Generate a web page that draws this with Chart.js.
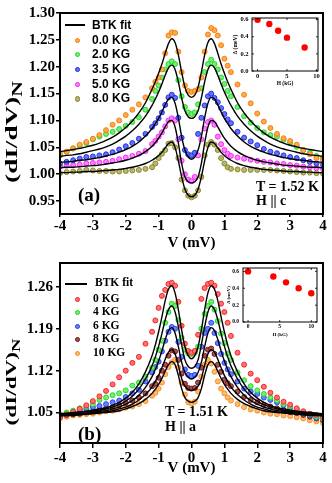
<!DOCTYPE html>
<html lang="en">
<head>
<meta charset="UTF-8" />
<title>BTK fits</title>
<script src="https://cdn.jsdelivr.net/npm/chart.js@4.4.1/dist/chart.umd.min.js"></script>
<style>
    * { margin: 0; padding: 0; }
    body { width: 332px; height: 483px; background: #fff; position: relative; overflow: hidden; }
    canvas { position: absolute; }
    #chartA { left: 0; top: 0; }
    #chartB { left: 0; top: 252px; }
    #insetA { left: 224px; top: 14px; }
    #insetB { left: 222px; top: 263px; }
    .txt { position: absolute; white-space: nowrap; font-weight: bold; line-height: 1; color: #000; }
    .serif { font-family: "Liberation Serif", "Times New Roman", serif; }
    .sans { font-family: "Liberation Sans", Arial, sans-serif; }
    .dot { position: absolute; border-radius: 50%; }
    .bar { position: absolute; background: #000; }
</style>
</head>
<body>
<canvas id="chartA" width="332" height="252"></canvas>
<canvas id="chartB" width="332" height="231"></canvas>
<canvas id="insetA" width="98" height="76"></canvas>
<canvas id="insetB" width="100" height="77"></canvas>
<div id="overlay"></div>
<script>
    // bias voltage (mV)
    const V = [-4, -3.8, -3.6, -3.4, -3.2, -3, -2.8, -2.6, -2.4, -2.2, -2, -1.8, -1.6, -1.4,
        -1.2, -1.1, -1, -0.9, -0.8, -0.7, -0.6, -0.5, -0.4, -0.3, -0.2, -0.1, 0, 0.1, 0.2, 0.3, 0.4, 0.5, 0.6, 0.7, 0.8, 0.9, 1, 1.1, 1.2,
        1.4, 1.6, 1.8, 2, 2.2, 2.4, 2.6, 2.8, 3, 3.2, 3.4, 3.6, 3.8, 4];

    // panel (a): H || c
    const labelsA = ["0.0 KG", "2.0 KG", "3.5 KG", "5.0 KG", "8.0 KG"];
    const a0 = [1.038, 1.042, 1.048, 1.055, 1.060, 1.066, 1.073, 1.082, 1.092, 1.100, 1.110, 1.120, 1.130, 1.143,
        1.160, 1.172, 1.180, 1.195, 1.225, 1.258, 1.264, 1.263, 1.228, 1.190, 1.165, 1.155, 1.153, 1.155, 1.158, 1.180, 1.228, 1.260, 1.272, 1.268, 1.258, 1.240, 1.215, 1.202, 1.190,
        1.167, 1.148, 1.132, 1.113, 1.098, 1.086, 1.075, 1.067, 1.062, 1.055, 1.045, 1.037, 1.030, 1.027];
    const a1 = [1.035, 1.042, 1.048, 1.053, 1.058, 1.065, 1.070, 1.075, 1.079, 1.084, 1.090, 1.097, 1.106, 1.120,
        1.140, 1.155, 1.165, 1.180, 1.195, 1.205, 1.210, 1.205, 1.175, 1.145, 1.125, 1.115, 1.112, 1.115, 1.130, 1.160, 1.190, 1.205, 1.213, 1.205, 1.195, 1.180, 1.168, 1.155, 1.145,
        1.125, 1.108, 1.096, 1.086, 1.078, 1.073, 1.070, 1.064, 1.058, 1.051, 1.045, 1.040, 1.034, 1.030];
    const a2 = [1.020, 1.023, 1.026, 1.029, 1.032, 1.033, 1.035, 1.037, 1.041, 1.046, 1.052, 1.058, 1.066, 1.075,
        1.088, 1.095, 1.104, 1.115, 1.129, 1.143, 1.148, 1.142, 1.105, 1.068, 1.045, 1.037, 1.035, 1.040, 1.075, 1.105, 1.128, 1.145, 1.150, 1.142, 1.134, 1.123, 1.112, 1.102, 1.095,
        1.079, 1.068, 1.061, 1.054, 1.047, 1.042, 1.039, 1.035, 1.032, 1.030, 1.026, 1.023, 1.020, 1.018];
    const a3 = [1.014, 1.016, 1.017, 1.018, 1.020, 1.021, 1.022, 1.023, 1.025, 1.028, 1.031, 1.034, 1.038, 1.043,
        1.056, 1.062, 1.070, 1.078, 1.089, 1.100, 1.104, 1.100, 1.065, 1.025, 1.000, 0.990, 0.987, 0.995, 1.035, 1.065, 1.085, 1.097, 1.100, 1.092, 1.070, 1.056, 1.045, 1.038, 1.034,
        1.031, 1.029, 1.027, 1.025, 1.023, 1.022, 1.020, 1.019, 1.017, 1.016, 1.014, 1.013, 1.011, 1.010];
    const a4 = [1.002, 1.004, 1.005, 1.006, 1.008, 1.007, 1.006, 1.006, 1.005, 1.005, 1.006, 1.007, 1.008, 1.010,
        1.013, 1.020, 1.030, 1.038, 1.045, 1.057, 1.058, 1.050, 1.030, 0.990, 0.970, 0.960, 0.957, 0.960, 0.970, 0.995, 1.035, 1.055, 1.060, 1.055, 1.045, 1.030, 1.020, 1.013, 1.010,
        1.009, 1.008, 1.008, 1.008, 1.008, 1.008, 1.007, 1.006, 1.005, 1.004, 1.003, 1.003, 1.002, 1.001];
    const fitA0 = [1.042, 1.044, 1.046, 1.048, 1.051, 1.054, 1.058, 1.063, 1.069, 1.077, 1.087, 1.099, 1.114, 1.133,
        1.158, 1.172, 1.188, 1.205, 1.225, 1.243, 1.252, 1.245, 1.222, 1.190, 1.162, 1.147, 1.143, 1.147, 1.162, 1.190, 1.222, 1.245, 1.252, 1.243, 1.225, 1.205, 1.188, 1.172, 1.158,
        1.133, 1.114, 1.099, 1.087, 1.077, 1.069, 1.063, 1.058, 1.054, 1.051, 1.048, 1.046, 1.044, 1.042];
    const fitA1 = [1.033, 1.035, 1.036, 1.038, 1.041, 1.044, 1.047, 1.051, 1.056, 1.063, 1.071, 1.081, 1.093, 1.108,
        1.128, 1.140, 1.153, 1.168, 1.184, 1.198, 1.203, 1.195, 1.172, 1.142, 1.118, 1.107, 1.104, 1.107, 1.118, 1.142, 1.172, 1.195, 1.203, 1.198, 1.184, 1.168, 1.153, 1.140, 1.128,
        1.108, 1.093, 1.081, 1.071, 1.063, 1.056, 1.051, 1.047, 1.044, 1.041, 1.038, 1.036, 1.035, 1.033];
    const fitA2 = [1.022, 1.023, 1.024, 1.026, 1.027, 1.029, 1.031, 1.034, 1.037, 1.041, 1.046, 1.052, 1.060, 1.071,
        1.085, 1.094, 1.104, 1.116, 1.129, 1.140, 1.143, 1.132, 1.105, 1.070, 1.045, 1.032, 1.028, 1.032, 1.045, 1.070, 1.105, 1.132, 1.143, 1.140, 1.129, 1.116, 1.104, 1.094, 1.085,
        1.071, 1.060, 1.052, 1.046, 1.041, 1.037, 1.034, 1.031, 1.029, 1.027, 1.026, 1.024, 1.023, 1.022];
    const fitA3 = [1.012, 1.013, 1.013, 1.014, 1.015, 1.016, 1.017, 1.019, 1.021, 1.023, 1.026, 1.030, 1.035, 1.042,
        1.052, 1.059, 1.067, 1.077, 1.088, 1.098, 1.100, 1.088, 1.058, 1.020, 0.995, 0.986, 0.984, 0.986, 0.995, 1.020, 1.058, 1.088, 1.100, 1.098, 1.088, 1.077, 1.067, 1.059, 1.052,
        1.042, 1.035, 1.030, 1.026, 1.023, 1.021, 1.019, 1.017, 1.016, 1.015, 1.014, 1.013, 1.013, 1.012];
    const fitA4 = [1.003, 1.003, 1.004, 1.004, 1.005, 1.005, 1.006, 1.007, 1.008, 1.009, 1.011, 1.013, 1.016, 1.020,
        1.026, 1.030, 1.035, 1.041, 1.049, 1.057, 1.060, 1.050, 1.025, 0.995, 0.972, 0.961, 0.958, 0.961, 0.972, 0.995, 1.025, 1.050, 1.060, 1.057, 1.049, 1.041, 1.035, 1.030, 1.026,
        1.020, 1.016, 1.013, 1.011, 1.009, 1.008, 1.007, 1.006, 1.005, 1.005, 1.004, 1.004, 1.003, 1.003];
    const yTicksA = [0.95, 1.00, 1.05, 1.10, 1.15, 1.20, 1.25, 1.30];

    // panel (b): H || a
    const labelsB = ["0 KG", "4 KG", "6 KG", "8 KG", "10 KG"];
    const b0 = [1.043, 1.047, 1.051, 1.056, 1.062, 1.069, 1.077, 1.086, 1.097, 1.109, 1.120, 1.133, 1.143, 1.165,
        1.185, 1.204, 1.225, 1.245, 1.255, 1.265, 1.267, 1.262, 1.235, 1.195, 1.165, 1.153, 1.150, 1.153, 1.180, 1.240, 1.258, 1.265, 1.267, 1.262, 1.248, 1.232, 1.218, 1.200, 1.178,
        1.150, 1.130, 1.115, 1.104, 1.093, 1.083, 1.075, 1.068, 1.063, 1.057, 1.052, 1.048, 1.046, 1.043];
    const b1 = [1.047, 1.050, 1.053, 1.057, 1.060, 1.064, 1.071, 1.075, 1.079, 1.082, 1.087, 1.095, 1.100, 1.110,
        1.125, 1.138, 1.155, 1.170, 1.200, 1.218, 1.232, 1.228, 1.205, 1.175, 1.155, 1.149, 1.148, 1.150, 1.160, 1.190, 1.215, 1.228, 1.235, 1.222, 1.203, 1.182, 1.166, 1.148, 1.138,
        1.117, 1.104, 1.094, 1.087, 1.081, 1.075, 1.070, 1.064, 1.060, 1.055, 1.051, 1.047, 1.043, 1.040];
    const b2 = [1.043, 1.047, 1.050, 1.053, 1.056, 1.059, 1.061, 1.064, 1.067, 1.070, 1.076, 1.082, 1.088, 1.102,
        1.117, 1.126, 1.135, 1.152, 1.170, 1.185, 1.193, 1.190, 1.168, 1.143, 1.122, 1.113, 1.111, 1.113, 1.128, 1.160, 1.183, 1.190, 1.200, 1.183, 1.166, 1.148, 1.133, 1.122, 1.114,
        1.102, 1.090, 1.085, 1.081, 1.075, 1.071, 1.067, 1.062, 1.058, 1.053, 1.049, 1.045, 1.041, 1.038];
    const b3 = [1.043, 1.046, 1.047, 1.048, 1.050, 1.052, 1.054, 1.057, 1.059, 1.062, 1.066, 1.070, 1.075, 1.082,
        1.094, 1.098, 1.108, 1.120, 1.130, 1.145, 1.154, 1.152, 1.138, 1.115, 1.098, 1.091, 1.090, 1.091, 1.100, 1.125, 1.145, 1.155, 1.157, 1.148, 1.130, 1.118, 1.105, 1.099, 1.094,
        1.085, 1.076, 1.071, 1.067, 1.063, 1.060, 1.057, 1.054, 1.051, 1.049, 1.046, 1.043, 1.040, 1.037];
    const b4 = [1.040, 1.043, 1.045, 1.046, 1.047, 1.048, 1.050, 1.052, 1.053, 1.055, 1.058, 1.060, 1.064, 1.069,
        1.078, 1.083, 1.090, 1.100, 1.114, 1.126, 1.134, 1.138, 1.125, 1.100, 1.080, 1.067, 1.065, 1.068, 1.085, 1.110, 1.130, 1.138, 1.132, 1.118, 1.102, 1.090, 1.082, 1.075, 1.070,
        1.064, 1.059, 1.055, 1.053, 1.050, 1.048, 1.047, 1.045, 1.044, 1.042, 1.040, 1.037, 1.035, 1.032];
    const fitB0 = [1.048, 1.049, 1.050, 1.051, 1.052, 1.054, 1.056, 1.058, 1.062, 1.067, 1.074, 1.084, 1.098, 1.118,
        1.145, 1.163, 1.185, 1.210, 1.237, 1.256, 1.262, 1.250, 1.222, 1.188, 1.160, 1.145, 1.140, 1.145, 1.160, 1.188, 1.222, 1.250, 1.262, 1.256, 1.237, 1.210, 1.185, 1.163, 1.145,
        1.118, 1.098, 1.084, 1.074, 1.067, 1.062, 1.058, 1.056, 1.054, 1.052, 1.051, 1.050, 1.049, 1.048];
    const fitB1 = [1.047, 1.048, 1.049, 1.050, 1.051, 1.052, 1.054, 1.056, 1.059, 1.063, 1.069, 1.077, 1.089, 1.106,
        1.128, 1.143, 1.161, 1.182, 1.205, 1.222, 1.228, 1.218, 1.193, 1.163, 1.138, 1.127, 1.124, 1.127, 1.138, 1.163, 1.193, 1.218, 1.228, 1.222, 1.205, 1.182, 1.161, 1.143, 1.128,
        1.106, 1.089, 1.077, 1.069, 1.063, 1.059, 1.056, 1.054, 1.052, 1.051, 1.050, 1.049, 1.048, 1.047];
    const fitB2 = [1.046, 1.047, 1.048, 1.048, 1.049, 1.050, 1.052, 1.053, 1.056, 1.059, 1.064, 1.070, 1.079, 1.092,
        1.110, 1.122, 1.136, 1.153, 1.172, 1.187, 1.192, 1.183, 1.160, 1.134, 1.117, 1.109, 1.106, 1.109, 1.117, 1.134, 1.160, 1.183, 1.192, 1.187, 1.172, 1.153, 1.136, 1.122, 1.110,
        1.092, 1.079, 1.070, 1.064, 1.059, 1.056, 1.053, 1.052, 1.050, 1.049, 1.048, 1.048, 1.047, 1.046];
    const fitB3 = [1.045, 1.046, 1.046, 1.047, 1.048, 1.049, 1.050, 1.051, 1.053, 1.056, 1.059, 1.064, 1.071, 1.080,
        1.093, 1.102, 1.112, 1.125, 1.139, 1.151, 1.155, 1.148, 1.129, 1.107, 1.094, 1.089, 1.087, 1.089, 1.094, 1.107, 1.129, 1.148, 1.155, 1.151, 1.139, 1.125, 1.112, 1.102, 1.093,
        1.080, 1.071, 1.064, 1.059, 1.056, 1.053, 1.051, 1.050, 1.049, 1.048, 1.047, 1.046, 1.046, 1.045];
    const fitB4 = [1.044, 1.045, 1.045, 1.046, 1.047, 1.048, 1.049, 1.050, 1.051, 1.053, 1.056, 1.060, 1.065, 1.072,
        1.082, 1.089, 1.097, 1.107, 1.119, 1.130, 1.135, 1.130, 1.112, 1.090, 1.075, 1.069, 1.067, 1.069, 1.075, 1.090, 1.112, 1.130, 1.135, 1.130, 1.119, 1.107, 1.097, 1.089, 1.082,
        1.072, 1.065, 1.060, 1.056, 1.053, 1.051, 1.050, 1.049, 1.048, 1.047, 1.046, 1.045, 1.045, 1.044];
    const yTicksB = [1.05, 1.12, 1.19, 1.26];

    const xTicks = [-4, -3, -2, -1, 0, 1, 2, 3, 4];

    // insets: gap vs field
    const fieldA = [0, 2, 3.5, 5, 8];
    const gapA = [0.60, 0.55, 0.47, 0.39, 0.275];
    const fieldB = [0, 4, 6, 8, 10];
    const gapB = [0.60, 0.54, 0.47, 0.40, 0.34];
    const insetYTicks = [0, 0.2, 0.4, 0.6];
    const insetXTicks = [0, 5, 10];

    // colours (fill, rim)
    const fillA = ["#ffa850", "#70f070", "#6470ff", "#ff80ff", "#b8b868"];
    const edgeA = ["#f57a00", "#1fd31f", "#1c26d8", "#f020f0", "#80802a"];
    const fillB = ["#ff7070", "#70f070", "#6a80ff", "#a85050", "#ffb870"];
    const edgeB = ["#f01c1c", "#1fd31f", "#1f3cf0", "#6e0f0f", "#f58a1a"];

    const SERIF = '"Liberation Serif", "Times New Roman", serif';
    const pts = (xs, ys) => xs.map((x, i) => ({ x: x, y: ys[i] }));

    const framePlugin = {
        id: "frame",
        afterDatasetsDraw(chart, args, opts) {
            const { ctx, chartArea: a } = chart;
            ctx.save();
            ctx.strokeStyle = "#000";
            ctx.lineWidth = opts.width || 2;
            ctx.strokeRect(a.left, a.top, a.right - a.left, a.bottom - a.top);
            if (opts.inner) {
                ctx.lineWidth = 0.8;
                const t = opts.inner;
                chart.scales.x.ticks.forEach(tk => {
                    const px = chart.scales.x.getPixelForValue(tk.value);
                    ctx.beginPath();
                    ctx.moveTo(px, a.bottom); ctx.lineTo(px, a.bottom - t);
                    ctx.moveTo(px, a.top); ctx.lineTo(px, a.top + t);
                    ctx.stroke();
                });
                chart.scales.y.ticks.forEach(tk => {
                    const py = chart.scales.y.getPixelForValue(tk.value);
                    ctx.beginPath();
                    ctx.moveTo(a.left, py); ctx.lineTo(a.left + t, py);
                    ctx.moveTo(a.right, py); ctx.lineTo(a.right - t, py);
                    ctx.stroke();
                });
            }
            ctx.restore();
        }
    };

    // rotated y title with subscript N
    const yTitlePlugin = {
        id: "ytitle",
        afterDraw(chart, args, o) {
            const ctx = chart.ctx;
            ctx.save();
            ctx.translate(o.x, o.y);
            ctx.rotate(-Math.PI / 2);
            ctx.scale(o.sx, 1);
            ctx.fillStyle = "#000";
            ctx.textBaseline = "middle";
            ctx.font = "bold " + o.size + "px " + SERIF;
            const main = "(dI/dV)";
            const w1 = ctx.measureText(main).width;
            ctx.font = "bold " + (o.size * 0.8) + "px " + SERIF;
            const w2 = ctx.measureText("N").width;
            const start = -(w1 + w2) / 2;
            ctx.font = "bold " + o.size + "px " + SERIF;
            ctx.fillText(main, start, 0);
            ctx.font = "bold " + (o.size * 0.8) + "px " + SERIF;
            ctx.fillText("N", start + w1, o.size * 0.35);
            ctx.restore();
        }
    };

    function mainChart(id, series, fits, fills, edges, yMin, yMax, yTicks, g) {
        const datasets = [];
        fits.forEach(f => datasets.push({
            data: pts(V, f), showLine: true, borderColor: "#000", borderWidth: 1.4,
            pointRadius: 0, cubicInterpolationMode: "monotone", order: 1
        }));
        series.forEach((s, i) => datasets.push({
            data: pts(V, s), showLine: false, pointRadius: 2.5, pointBorderWidth: 0.9,
            pointBackgroundColor: fills[i], pointBorderColor: edges[i], order: 2
        }));
        return new Chart(document.getElementById(id), {
            type: "scatter",
            data: { datasets: datasets },
            plugins: [framePlugin, yTitlePlugin],
            options: {
                responsive: false,
                animation: false,
                events: [],
                layout: { padding: { top: g.padTop, right: 9, left: 0, bottom: 0 } },
                scales: {
                    x: {
                        type: "linear", min: -4, max: 4,
                        afterBuildTicks: s => { s.ticks = xTicks.map(v => ({ value: v })); },
                        afterFit: s => { s.height = g.xH; s.paddingLeft = 0; s.paddingRight = 0; },
                        grid: { display: true, drawOnChartArea: false, drawTicks: true, tickLength: g.xTickLen, color: "#000", lineWidth: 1.5 },
                        border: { display: false },
                        ticks: {
                            color: "#000", padding: g.xTickPad, maxRotation: 0, autoSkip: false,
                            font: { family: SERIF, size: 15, weight: "bold" },
                            callback: v => String(v)
                        },
                        title: {
                            display: true, text: "V (mV)", color: "#000",
                            font: { family: SERIF, size: 15, weight: "bold" },
                            padding: { top: 0, bottom: g.titlePB }
                        }
                    },
                    y: {
                        type: "linear", min: yMin, max: yMax,
                        afterBuildTicks: s => { s.ticks = yTicks.map(v => ({ value: v })); },
                        afterFit: s => { s.width = 60; s.paddingTop = 0; s.paddingBottom = 0; },
                        grid: { display: true, drawOnChartArea: false, drawTicks: true, tickLength: 4, color: "#000", lineWidth: 1.5 },
                        border: { display: false },
                        ticks: {
                            color: "#000", padding: g.yTickPad, autoSkip: false,
                            font: { family: SERIF, size: 15, weight: "bold" },
                            callback: v => v.toFixed(2)
                        }
                    }
                },
                plugins: {
                    legend: { display: false },
                    tooltip: { enabled: false },
                    frame: { width: 2 },
                    ytitle: g.yTitle
                }
            }
        });
    }

    function insetChart(id, hs, gaps, g) {
        return new Chart(document.getElementById(id), {
            type: "scatter",
            data: { datasets: [{ data: pts(hs, gaps), pointRadius: g.r, pointBackgroundColor: "#ff0000", pointBorderColor: "#ff0000", pointBorderWidth: 0 }] },
            plugins: [framePlugin],
            options: {
                responsive: false,
                animation: false,
                events: [],
                layout: { padding: { top: g.padTop, right: g.padRight, left: 0, bottom: 0 } },
                scales: {
                    x: {
                        type: "linear", min: g.xMin, max: g.xMax,
                        afterBuildTicks: s => { s.ticks = insetXTicks.map(v => ({ value: v })); },
                        afterFit: s => { s.height = g.xH; s.paddingLeft = 0; s.paddingRight = 0; },
                        grid: { display: false, drawTicks: false },
                        border: { display: false },
                        ticks: { color: "#000", padding: 1, maxRotation: 0, autoSkip: false, font: { family: SERIF, size: g.tick, weight: "bold" } },
                        title: { display: true, text: "H (kG)", color: "#000", font: { family: SERIF, size: g.title, weight: "bold" }, padding: { top: 0, bottom: g.titlePB } }
                    },
                    y: {
                        type: "linear", min: 0, max: g.yMax,
                        afterBuildTicks: s => { s.ticks = insetYTicks.map(v => ({ value: v })); },
                        afterFit: s => { s.width = g.yW; s.paddingTop = 0; s.paddingBottom = 0; },
                        grid: { display: false, drawTicks: false },
                        border: { display: false },
                        ticks: { color: "#000", padding: g.yTickPad, autoSkip: false, font: { family: SERIF, size: g.tick, weight: "bold" }, callback: v => v.toFixed(1) },
                        title: { display: true, text: "Δ (meV)", color: "#000", font: { family: SERIF, size: g.title, weight: "bold" }, padding: { top: g.yTitlePad, bottom: 0 } }
                    }
                },
                plugins: {
                    legend: { display: false },
                    tooltip: { enabled: false },
                    frame: { width: 1, inner: 2 }
                }
            }
        });
    }

    mainChart("chartA", [a0, a1, a2, a3, a4], [fitA0, fitA1, fitA2, fitA3, fitA4], fillA, edgeA,
        0.926, 1.30, yTicksA,
        { padTop: 13, xH: 38, xTickLen: 3, xTickPad: 0, titlePB: 0, yTickPad: 1, yTitle: { x: 13, y: 132, size: 17, sx: 1.6 } });
    mainChart("chartB", [b0, b1, b2, b3, b4], [fitB0, fitB1, fitB2, fitB3, fitB4], fillB, edgeB,
        0.999, 1.30, yTicksB,
        { padTop: 11, xH: 40, xTickLen: 5, xTickPad: 1, titlePB: 6, yTickPad: 3, yTitle: { x: 12, y: 130, size: 15, sx: 1.55 } });

    insetChart("insetA", fieldA, gapA,
        { r: 3.2, padTop: 4, padRight: 4, xH: 19, yW: 28, xMin: -0.94, xMax: 10.27, yMax: 0.62, tick: 6.5, title: 5.5, titlePB: 3, yTickPad: 3.5, yTitlePad: 8 });
    insetChart("insetB", fieldB, gapB,
        { r: 3.2, padTop: 5, padRight: 5, xH: 18, yW: 21, xMin: -0.8, xMax: 10.9, yMax: 0.64, tick: 5.5, title: 5, titlePB: 2.5, yTickPad: 4, yTitlePad: 3.5 });

    // legends and notes as page text
    const overlay = document.getElementById("overlay");
    function addText(text, cls, left, top, size) {
        const d = document.createElement("div");
        d.className = "txt " + cls;
        d.style.left = left + "px";
        d.style.top = top + "px";
        d.style.fontSize = size + "px";
        d.textContent = text;
        overlay.appendChild(d);
    }
    function addDot(cx, cy, r, fill, edge) {
        const d = document.createElement("div");
        d.className = "dot";
        d.style.left = (cx - r) + "px";
        d.style.top = (cy - r) + "px";
        d.style.width = (2 * r - 1.6) + "px";
        d.style.height = (2 * r - 1.6) + "px";
        d.style.background = fill;
        d.style.border = "0.8px solid " + edge;
        overlay.appendChild(d);
    }
    function addBar(left, top, w) {
        const d = document.createElement("div");
        d.className = "bar";
        d.style.left = left + "px";
        d.style.top = top + "px";
        d.style.width = w + "px";
        d.style.height = "1.6px";
        overlay.appendChild(d);
    }

    // legend (a)
    addBar(65, 24.2, 20);
    addText("BTK fit", "sans", 92, 18.5, 12);
    labelsA.forEach((t, i) => {
        const cy = 40 + i * 14.7;
        addDot(77, cy, 2.4, fillA[i], edgeA[i]);
        addText(t, "sans", 92, cy - 6.5, 12);
    });
    // legend (b)
    addBar(65, 283.2, 22);
    addText("BTK fit", "serif", 95, 277, 11.5);
    labelsB.forEach((t, i) => {
        const cy = 299 + i * 13.5;
        addDot(77, cy, 2.4, fillB[i], edgeB[i]);
        addText(t, "serif", 93, cy - 6.5, 11.5);
    });

    addText("(a)", "serif", 78, 185, 19);
    addText("T = 1.52 K", "serif", 256, 180, 14);
    addText("H || c", "serif", 256, 194, 14);
    addText("(b)", "serif", 78, 424, 19);
    addText("T = 1.51 K", "serif", 165, 405, 14);
    addText("H || a", "serif", 165, 420, 14);
</script>
</body>
</html>
